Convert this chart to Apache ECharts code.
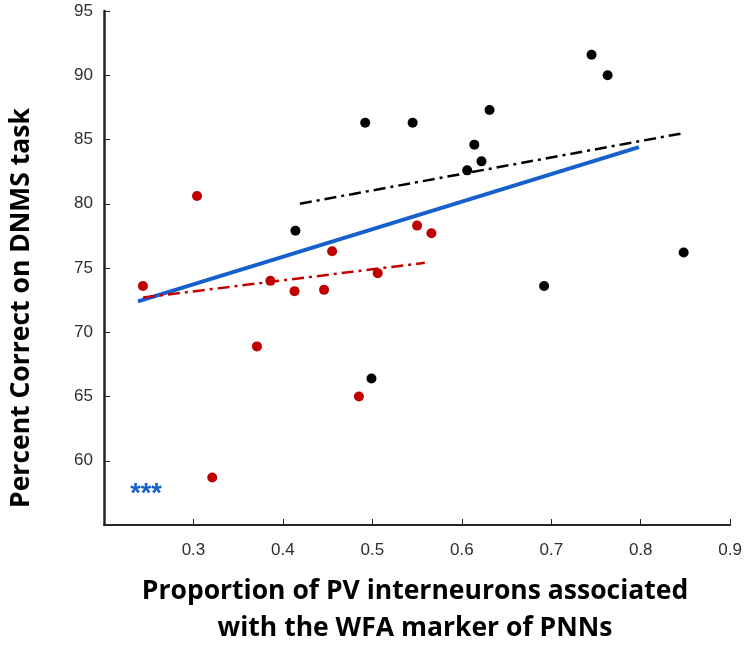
<!DOCTYPE html>
<html>
<head>
<meta charset="utf-8">
<script src="https://cdn.jsdelivr.net/npm/echarts@6/dist/echarts.min.js"></script>
<style>
  html, body { margin: 0; padding: 0; background: #fff; }
  #chart { width: 745px; height: 646px; }
</style>
</head>
<body>
<div id="chart"></div>
<script>
// Black group: [proportion, percent correct]
const blackPoints = [
  [0.414, 77.9], [0.492, 86.3], [0.545, 86.3], [0.631, 87.3],
  [0.614, 84.6], [0.622, 83.3], [0.606, 82.6], [0.745, 91.6],
  [0.763, 90.0], [0.848, 76.2], [0.692, 73.6], [0.499, 66.4]
];
// Red group
const redPoints = [
  [0.304, 80.6], [0.2435, 73.6], [0.371, 68.9], [0.321, 58.7],
  [0.386, 74.0], [0.413, 73.2], [0.446, 73.3], [0.506, 74.6],
  [0.485, 65.0], [0.455, 76.3], [0.550, 78.3], [0.566, 77.7]
];
// Fitted lines (end points)
const blackFit = [[0.419, 80.0], [0.848, 85.5]];
const redFit = [[0.2438, 72.7], [0.5586, 75.4]];
const allFit = [[0.238, 72.4], [0.798, 84.4]];
// Significance marker position
const starsAt = [[0.247, 57.4]];

const xTicks = [0.3, 0.4, 0.5, 0.6, 0.7, 0.8, 0.9];
const yTicks = [60, 65, 70, 75, 80, 85, 90, 95];

const axisColor = '#262626';
const labelFont = { fontFamily: "'Liberation Sans', Arial, sans-serif", fontSize: 17, color: '#2e2e2e' };
const titleFont = "'Open Sans', 'Lato', sans-serif";

const chart = echarts.init(document.getElementById('chart'));
chart.setOption({
  animation: false,
  backgroundColor: '#ffffff',
  grid: { left: 104, right: 12, top: 11, bottom: 121, containLabel: false },
  xAxis: {
    type: 'value', min: 0.2, max: 0.9, interval: 0.1,
    axisLine: { show: true, lineStyle: { color: axisColor, width: 2 } },
    axisTick: { show: true, inside: true, length: 6, lineStyle: { color: axisColor, width: 1 } },
    axisLabel: Object.assign({ showMinLabel: false, margin: 17,
      formatter: v => xTicks.some(t => Math.abs(t - v) < 1e-6) ? v.toFixed(1) : '' }, labelFont),
    splitLine: { show: false }
  },
  yAxis: {
    type: 'value', min: 55, max: 95, interval: 5,
    axisLine: { show: true, lineStyle: { color: axisColor, width: 2.5 } },
    axisTick: { show: true, inside: true, length: 6, lineStyle: { color: axisColor, width: 1 } },
    axisLabel: Object.assign({ showMinLabel: false, margin: 11,
      formatter: v => yTicks.includes(v) ? String(v) : '' }, labelFont),
    splitLine: { show: false }
  },
  graphic: [
    {
      type: 'text', rotation: Math.PI / 2, x: 21, y: 308,
      style: {
        text: 'Percent Correct on DNMS task',
        font: "bold 26.5px " + titleFont, fill: '#000',
        textAlign: 'center', textVerticalAlign: 'middle'
      }
    },
    {
      type: 'text', x: 415, y: 610,
      style: {
        text: 'Proportion of PV interneurons associated\nwith the WFA marker of PNNs',
        font: "bold 26.5px " + titleFont, fill: '#000', lineHeight: 37,
        textAlign: 'center', textVerticalAlign: 'middle'
      }
    }
  ],
  series: [
    {
      type: 'line', data: allFit, symbol: 'none', z: 3,
      lineStyle: { color: '#1660cc', width: 4 }
    },
    {
      type: 'line', data: blackFit, symbol: 'none', z: 3,
      lineStyle: { color: '#000000', width: 2.5, type: [12, 5, 3, 5] }
    },
    {
      type: 'line', data: redFit, symbol: 'none', z: 3,
      lineStyle: { color: '#c00000', width: 2.5, type: [12, 5, 3, 5] }
    },
    {
      type: 'scatter', data: blackPoints, symbol: 'circle', symbolSize: 10, z: 4,
      itemStyle: { color: '#000000', opacity: 1 }
    },
    {
      type: 'scatter', data: redPoints, symbol: 'circle', symbolSize: 10, z: 4,
      itemStyle: { color: '#c00000', opacity: 1 }
    },
    {
      type: 'scatter', data: starsAt, symbolSize: 0, silent: true,
      itemStyle: { opacity: 1 },
      label: {
        show: true, position: 'inside', formatter: '***', opacity: 1,
        color: '#1660cc', fontSize: 27, fontWeight: 'bold', fontFamily: 'Liberation Sans'
      }
    }
  ]
});
</script>
</body>
</html>
